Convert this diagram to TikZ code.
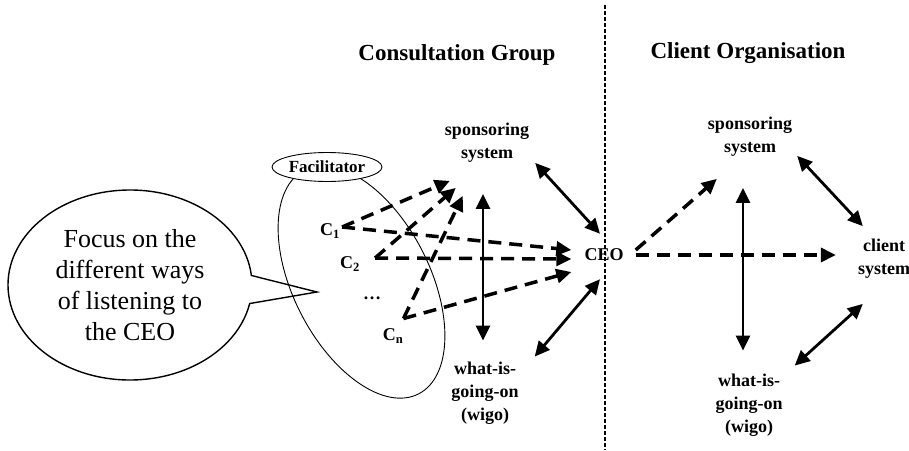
\documentclass[tikz,border=0pt]{standalone}
\usepackage{fontspec}
\setmainfont{Liberation Serif}
\usetikzlibrary{arrows.meta,shapes.geometric,shapes.callouts}
\tikzset{
  head/.style={font=\fontsize{23}{27}\selectfont\bfseries},
  lbl/.style={font=\fontsize{18}{23}\selectfont\bfseries, align=center, inner sep=1pt},
  cnode/.style={font=\fontsize{18}{22}\selectfont\bfseries, inner sep=1pt},
  twoway/.style={{Triangle[length=15pt,width=14pt]}-{Triangle[length=15pt,width=14pt]}, line width=2.8pt},
  oneway/.style={-{Triangle[length=15pt,width=14pt]}, line width=3.5pt, dash pattern=on 13pt off 8pt},
}

\begin{document}
\begin{tikzpicture}[x=1pt, y=1pt]
  \useasboundingbox (0,0) rectangle (909,-450);
  % headings
  \node[head] (cg) at (457,-55) {Consultation Group};
  \node[head] (co) at (748,-53) {Client Organisation};
  % consultation group (tilted ellipse) and facilitator
  \draw[line width=0.9pt, rotate around={-63:(361.5,-282)}] (361.5,-282) ellipse [x radius=125.6, y radius=68.3];
  \node[draw, ellipse, fill=white, line width=0.9pt, minimum width=110pt, minimum height=29pt, inner sep=0pt,
        font=\fontsize{17}{20}\selectfont\bfseries] (fac) at (327,-167) {Facilitator};
  \node[cnode] (c1) at (330,-231) {C\textsubscript{1}};
  \node[cnode] (c2) at (350,-264) {C\textsubscript{2}};
  \node[cnode] (cdots) at (372,-298) {\textellipsis};
  \node[cnode] (cn) at (393,-336) {C\textsubscript{n}};
  % speech bubble
  \node[ellipse callout, draw, line width=1.4pt, minimum width=244pt, minimum height=190pt, inner sep=0pt,
        align=center, font=\fontsize{26}{31}\selectfont,
        callout absolute pointer={(317,-292)}, callout pointer arc=17] (focus) at (130,-285)
        {Focus on the\\different ways\\of listening to\\the CEO};
  % systems
  \node[lbl] (spL) at (487,-143) {sponsoring\\system};
  \node[lbl] (wigoL) at (485,-393) {what-is-\\going-on\\(wigo)};
  \node[cnode] (ceo) at (604,-255) {CEO};
  \node[lbl] (spR) at (750,-137) {sponsoring\\system};
  \node[lbl] (wigoR) at (749,-405) {what-is-\\going-on\\(wigo)};
  \node[lbl] (client) at (884,-259) {client\\system};
  % ends of the listening arrows
  \coordinate (j1) at ([shift={(1,4)}]c1.east);
  \coordinate (j2) at ([shift={(14,6)}]c2.east);
  \coordinate (jn) at ([shift={(-1,9)}]cn.north east);
  \coordinate (sp1) at ([shift={(6,-17)}]spL.south west);
  \coordinate (sp2) at ([shift={(12,-24)}]spL.south west);
  \coordinate (sp3) at ([shift={(19,-32)}]spL.south west);
  \coordinate (ceo1) at ([shift={(-12,5)}]ceo.west);
  \coordinate (ceo2) at ([shift={(-12,-4)}]ceo.west);
  \coordinate (ceo3) at ([shift={(-12,-17)}]ceo.west);
  % listening (dashed)
  \draw[oneway] (j1) -- (sp1);
  \draw[oneway] (j2) -- (sp2);
  \draw[oneway] (jn) -- (sp3);
  \draw[oneway] (j1) -- (ceo1);
  \draw[oneway] (j2) -- (ceo2);
  \draw[oneway] (jn) -- (ceo3);
  % consultation group links
  \draw[twoway] ([shift={(-4,-30)}]spL.south) -- ([shift={(-2,20)}]wigoL.north);
  \draw[twoway] ([shift={(5,1)}]spL.south east) -- ([shift={(-4,14)}]ceo.north);
  \draw[twoway] ([shift={(15,4)}]wigoL.north east) -- ([shift={(-4,-17)}]ceo.south);
  % client organisation links
  \draw[oneway] ([shift={(11,5)}]ceo.east) -- ([shift={(10,-21)}]spR.south west);
  \draw[oneway] ([xshift=11pt]ceo.east) -- ([xshift=-21pt]ceo.east -| client.west);
  \draw[twoway] ([shift={(-7,-30)}]spR.south) -- ([shift={(-6,22)}]wigoR.north);
  \draw[twoway] ([shift={(4,2)}]spR.south east) -- ([shift={(6,12)}]client.north west);
  \draw[twoway] ([shift={(11,7)}]wigoR.north east) -- ([shift={(6,-24)}]client.south west);
  % divider
  \draw[line width=1.3pt, dash pattern=on 4pt off 2pt] (605,-5) -- (605,-450);
\end{tikzpicture}
\end{document}
